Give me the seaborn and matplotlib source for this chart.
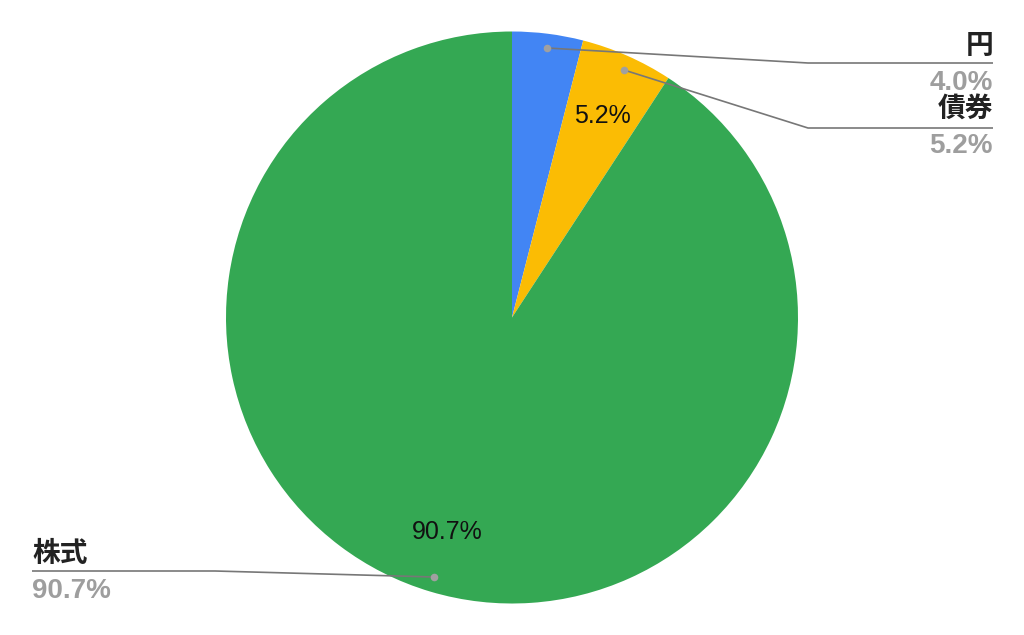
import matplotlib
matplotlib.use("Agg")
import matplotlib.pyplot as plt
import seaborn as sns

categories = ["円", "債券", "株式"]
values = [4.0, 5.2, 90.7]
pct_labels = ["4.0%", "5.2%", "90.7%"]
colors = ["#4285F4", "#FBBC04", "#34A853"]

sns.set_theme(style="white")
plt.rcParams['font.family'] = ['Liberation Sans', 'Noto Sans CJK JP', 'DejaVu Sans']

W, H = 1024, 635
fig = plt.figure(figsize=(W / 100, H / 100), dpi=100)
ax = fig.add_axes([0, 0, 1, 1])

cx, cy, r = 512, H - 317.5, 286
palette = sns.color_palette(colors)
ax.pie(values, colors=palette, startangle=90, counterclock=False,
       center=(cx, cy), radius=r, wedgeprops=dict(linewidth=0), frame=True)
ax.set_xlim(0, W)
ax.set_ylim(0, H)
ax.set_aspect('equal')
ax.axis('off')

def Y(y):
    return H - y

num_font = ['Liberation Sans', 'DejaVu Sans']
cjk_font = ['Noto Sans CJK JP', 'DejaVu Sans']

# inner labels
ax.text(602, Y(123), pct_labels[1], ha='center', va='baseline', fontsize=18,
        color='#111111', family=num_font)
ax.text(447, Y(539), pct_labels[2], ha='center', va='baseline', fontsize=18,
        color='#111111', family=num_font)

line_c = '#777777'
dot_c = '#A0A0A0'
leaders = [
    ((547, 48), (808, 63), (993, 63)),
    ((624, 70), (808, 128), (993, 128)),
    ((434, 577), (215, 571), (32, 571)),
]
for (d, e, f) in leaders:
    ax.plot([d[0], e[0], f[0]], [Y(d[1]), Y(e[1]), Y(f[1])], color=line_c, lw=1.2,
            solid_capstyle='butt')
    ax.scatter([d[0]], [Y(d[1])], s=30, color=dot_c, zorder=5, linewidths=0)

lab_c = '#222222'
pct_c = '#9E9E9E'
fs = 20
ax.text(993, Y(54), categories[0], ha='right', va='baseline', fontsize=fs,
        fontweight='bold', color=lab_c, family=cjk_font)
ax.text(993, Y(90), pct_labels[0], ha='right', va='baseline', fontsize=fs,
        fontweight='bold', color=pct_c, family=num_font)
ax.text(993, Y(117), categories[1], ha='right', va='baseline', fontsize=fs,
        fontweight='bold', color=lab_c, family=cjk_font)
ax.text(993, Y(153), pct_labels[1], ha='right', va='baseline', fontsize=fs,
        fontweight='bold', color=pct_c, family=num_font)
ax.text(32, Y(562), categories[2], ha='left', va='baseline', fontsize=fs,
        fontweight='bold', color=lab_c, family=cjk_font)
ax.text(32, Y(598), pct_labels[2], ha='left', va='baseline', fontsize=fs,
        fontweight='bold', color=pct_c, family=num_font)

fig.savefig("out.png", dpi=100, facecolor='white')
